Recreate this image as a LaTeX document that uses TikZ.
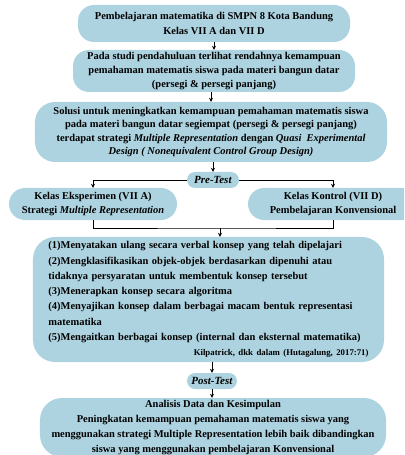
\documentclass[tikz,border=0pt]{standalone}
\usepackage{fontspec}
\setmainfont{Liberation Serif}
\usetikzlibrary{arrows.meta}
\definecolor{boxblue}{HTML}{AED3E0}
\begin{document}
\begin{tikzpicture}[x=1bp,y=-1bp,
  box/.style={fill=boxblue, rounded corners=16bp, align=center, inner sep=0pt,
    font=\bfseries\fontsize{10.5}{14.5}\selectfont},
  arr/.style={-{Stealth[length=4bp,width=4bp]}, line width=0.9bp, black},
  ln/.style={line width=0.9bp, black}]
\useasboundingbox (0,0) rectangle (404,455);
\clip (0,0) rectangle (404,455);

\node[box, minimum width=272bp, minimum height=37bp] (b1) at (214,23.5)
  {Pembelajaran matematika di SMPN 8 Kota Bandung\\Kelas VII A dan VII D};
\node[box, minimum width=282bp, minimum height=42bp] (b2) at (214,71)
  {Pada studi pendahuluan terlihat rendahnya kemampuan\\pemahaman matematis siswa pada materi bangun datar\\(persegi \& persegi panjang)};
\node[box, minimum width=352bp, minimum height=60bp, rounded corners=20bp,
  font=\bfseries\fontsize{10.5}{13.5}\selectfont] (b3) at (211,132)
  {Solusi untuk meningkatkan kemampuan pemahaman matematis siswa\\
   pada materi bangun datar segiempat (persegi \& persegi panjang)\\
   terdapat strategi \textit{Multiple Representation} dengan \textit{Quasi\ \ Experimental}\\
   \textit{Design ( Nonequivalent Control Group Design)}};
\node[box, minimum width=52bp, minimum height=16bp, rounded corners=8bp,
  font=\bfseries\fontsize{11}{13}\selectfont] (pre) at (213,180)
  {\textit{Pre-Test}};
\node[box, minimum width=168bp, minimum height=32bp] (ek) at (93,204)
  {Kelas Eksperimen (VII A)\\Strategi \textit{Multiple Representation}};
\node[box, minimum width=170bp, minimum height=32bp] (ko) at (333,204)
  {Kelas Kontrol (VII D)\\Pembelajaran Konvensional};
\node[box, minimum width=351bp, minimum height=125bp, rounded corners=22bp,
  align=left, text width=320bp, font=\bfseries\fontsize{10.5}{15.3}\selectfont] (b4) at (208.5,299.5)
  {(1)Menyatakan ulang secara verbal konsep yang telah dipelajari\\
   (2)Mengklasifikasikan objek-objek berdasarkan dipenuhi atau\\
   tidaknya persyaratan untuk membentuk konsep tersebut\\
   (3)Menerapkan konsep secara algoritma\\
   (4)Menyajikan konsep dalam berbagai macam bentuk representasi\\
   matematika\\
   (5)Mengaitkan berbagai konsep (internal dan eksternal matematika)\\
   \mbox{}\hfill{\fontsize{8.8}{10}\selectfont Kilpatrick, dkk dalam (Hutagalung, 2017:71)}\hspace*{-12bp}};
\node[box, minimum width=50bp, minimum height=16bp, rounded corners=8bp,
  font=\bfseries\fontsize{11}{13}\selectfont] (post) at (212,381)
  {\textit{Post-Test}};
\node[box, minimum width=346bp, minimum height=59bp, rounded corners=22bp,
  font=\bfseries\fontsize{10.5}{15}\selectfont] (b5) at (213,427.5)
  {Analisis Data dan Kesimpulan\\
   Peningkatan kemampuan pemahaman matematis siswa yang\\
   menggunakan strategi Multiple Representation lebih baik dibandingkan\\
   siswa yang menggunakan pembelajaran Konvensional};

\draw[arr] (b1.south) -- (b2.north);
\draw[arr] (b3.north |- b2.south) -- (b3.north);
\draw[arr] (pre.north |- b3.south) -- (pre.north);
\draw[arr] (pre.west) -| (ek.north);
\draw[arr] (pre.east) -| (ko.north);
\coordinate (br) at (220,228);
\draw[ln] (ek.south) |- (br) -| (ko.south);
\draw[arr] (br) -- (br |- b4.north);
\draw[arr] (post.north |- b4.south) -- (post.north);
\draw[arr] (post.south) -- (post.south |- b5.north);
\end{tikzpicture}
\end{document}
